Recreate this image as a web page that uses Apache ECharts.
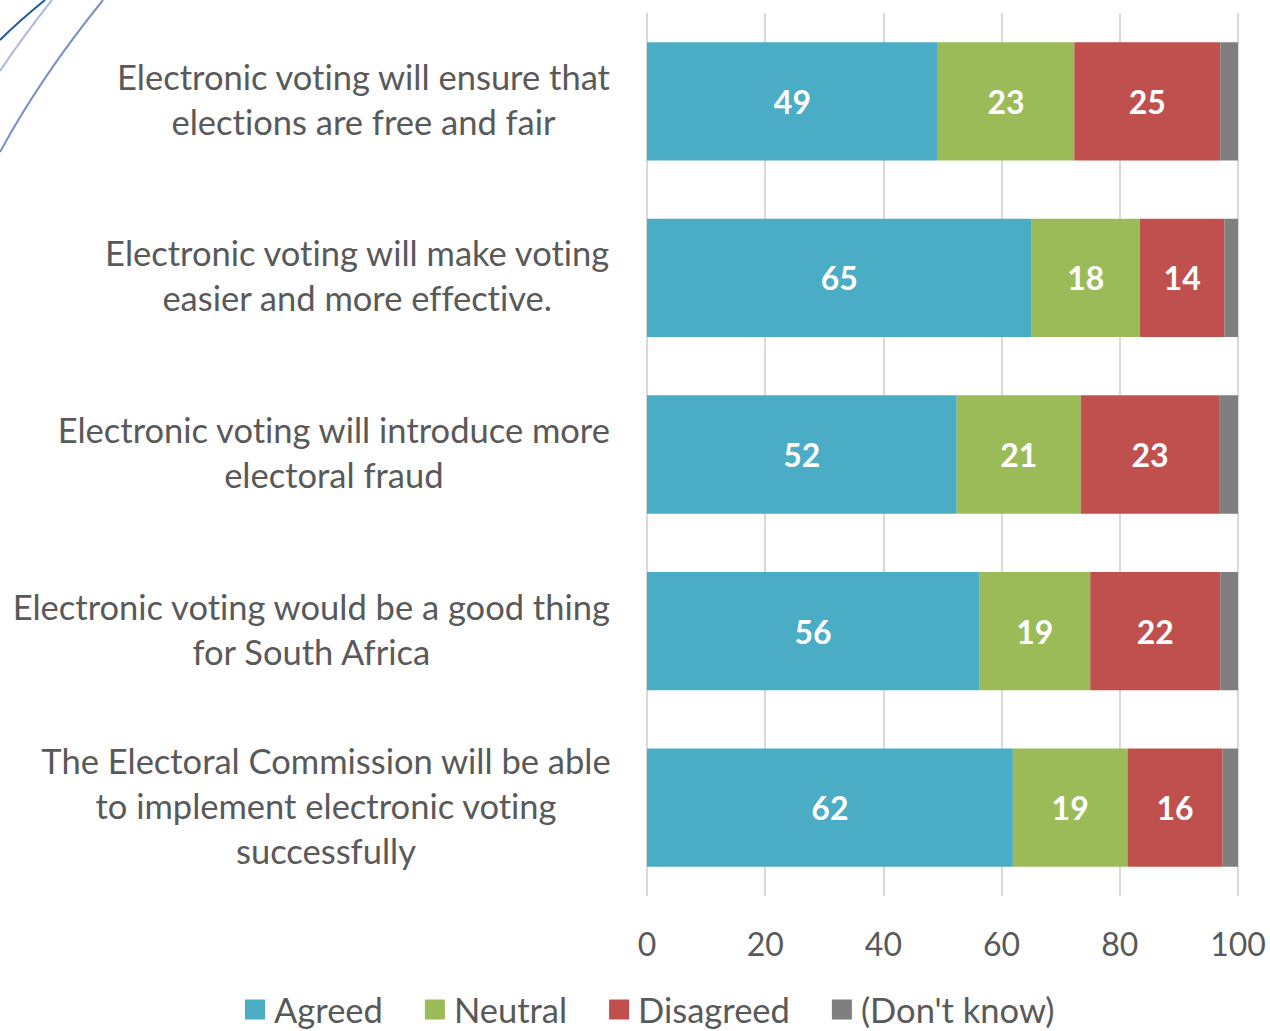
<!DOCTYPE html>
<html>
<head>
<meta charset="utf-8">
<script src="https://cdn.jsdelivr.net/npm/echarts@6/dist/echarts.min.js"></script>
<style>
  html, body { margin: 0; padding: 0; background: #ffffff; }
  #chart { width: 1270px; height: 1031px; }
  #chart text { font-variant-ligatures: none; font-feature-settings: "liga" 0; }
</style>
</head>
<body>
<div id="chart"></div>
<script>
const categories = [
  'Electronic voting will ensure that\nelections are free and fair',
  'Electronic voting will make voting\neasier and more effective.',
  'Electronic voting will introduce more\nelectoral fraud',
  'Electronic voting would be a good thing\nfor South Africa',
  'The Electoral Commission will be able\nto implement electronic voting\nsuccessfully'
];
const seriesNames = ['Agreed', 'Neutral', 'Disagreed', "(Don't know)"];
const agreed    = [49.2, 65.1, 52.4, 56.2, 61.9];
const neutral   = [23.1, 18.3, 21.0, 18.8, 19.4];
const disagreed = [24.7, 14.3, 23.4, 22.0, 16.1];
const dontKnow  = [3.0, 2.3, 3.2, 3.0, 2.6];
const xTicks = [0, 20, 40, 60, 80, 100];

const colors = ['#4BACC6', '#9BBB59', '#C0504D', '#7F7F7F'];
const FONT = 'Lato, "Open Sans", sans-serif';
const TEXT = '#595959';

const chart = echarts.init(document.getElementById('chart'), null, { renderer: 'svg' });

function mkSeries(name, data, idx, showLabel) {
  return {
    name: name,
    type: 'bar',
    stack: 'total',
    data: data,
    barCategoryGap: '33%',
    itemStyle: { color: colors[idx] },
    emphasis: { disabled: true },
    label: {
      show: showLabel,
      position: 'inside',
      color: '#ffffff',
      fontFamily: FONT,
      fontWeight: 'bold',
      fontSize: 32,
      formatter: p => Math.round(p.value)
    }
  };
}

chart.setOption({
  animation: false,
  backgroundColor: '#ffffff',
  graphic: [
    { type: 'bezierCurve', shape: { x1: 0, y1: 40, cpx1: 18, cpy1: 22, x2: 45, y2: 0 },
      style: { stroke: '#1F5AA0', lineWidth: 2, fill: null } },
    { type: 'bezierCurve', shape: { x1: 0, y1: 71, cpx1: 22, cpy1: 38, x2: 52, y2: 0 },
      style: { stroke: '#A9B6DC', lineWidth: 2, fill: null } },
    { type: 'bezierCurve', shape: { x1: 0, y1: 152, cpx1: 40, cpy1: 78, x2: 103, y2: 0 },
      style: { stroke: '#7A8FC6', lineWidth: 2, fill: null } }
  ],
  grid: { left: 647, right: 32, top: 13, bottom: 135, containLabel: false },
  legend: {
    data: seriesNames,
    left: 245,
    top: 992,
    padding: 0,
    icon: 'rect',
    itemWidth: 20,
    itemHeight: 20,
    itemGap: 42,
    textStyle: { color: TEXT, fontFamily: FONT, fontSize: 34.5, padding: [0, 0, 0, 4] }
  },
  xAxis: {
    type: 'value',
    min: xTicks[0],
    max: xTicks[xTicks.length - 1],
    interval: 20,
    axisLine: { show: false },
    axisTick: { show: false },
    splitLine: { show: true, lineStyle: { color: '#D9D9D9', width: 2 } },
    axisLabel: { color: TEXT, fontFamily: FONT, fontSize: 32, margin: 31 }
  },
  yAxis: {
    type: 'category',
    data: categories,
    inverse: true,
    axisLine: { show: false },
    axisTick: { show: false },
    axisLabel: {
      margin: 36,
      padding: [0, 0, 5, 0],
      formatter: v => v.split('\n').map(s => '{c|' + s + '}').join('\n'),
      rich: {
        c: { align: 'center', color: TEXT, fontFamily: FONT, fontSize: 34.5, lineHeight: 45 }
      }
    }
  },
  series: [
    mkSeries(seriesNames[0], agreed, 0, true),
    mkSeries(seriesNames[1], neutral, 1, true),
    mkSeries(seriesNames[2], disagreed, 2, true),
    mkSeries(seriesNames[3], dontKnow, 3, false)
  ]
});
</script>
</body>
</html>
